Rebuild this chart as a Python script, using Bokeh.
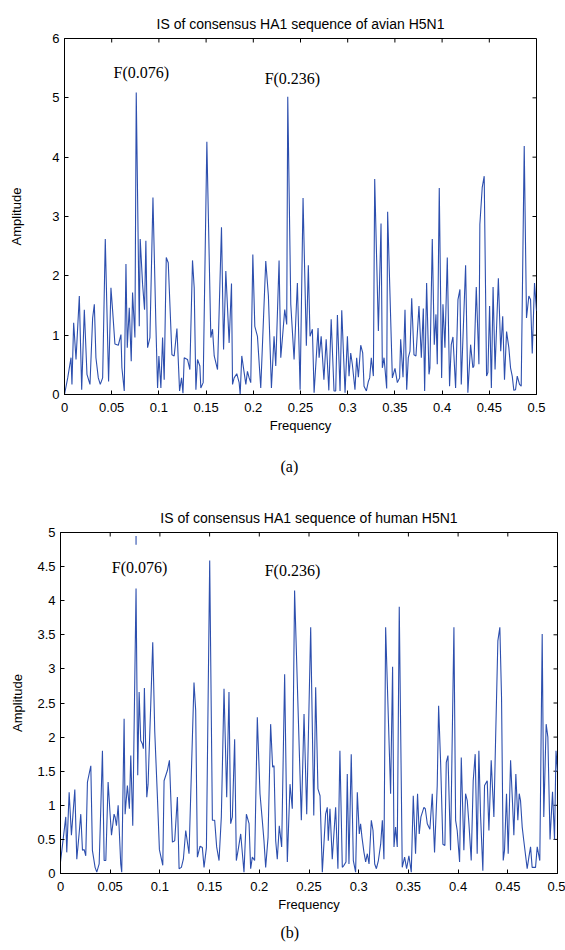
import math
from bokeh.plotting import figure
from bokeh.layouts import column, row
from bokeh.models import Range1d, FixedTicker, Title, NumeralTickFormatter
from bokeh.core.properties import value
from bokeh.embed import file_html
from bokeh.resources import INLINE

# ---------------- data ----------------
freq_avian = [
    0.0000, 0.0034, 0.0069, 0.0079, 0.0097, 0.0122, 0.0157, 0.0182, 0.0210, 0.0238,
    0.0270, 0.0298, 0.0316, 0.0333, 0.0358, 0.0379, 0.0404, 0.0432, 0.0467, 0.0492,
    0.0510, 0.0534, 0.0570, 0.0598, 0.0608, 0.0633, 0.0651, 0.0665, 0.0686, 0.0707,
    0.0721, 0.0746, 0.0760, 0.0792, 0.0802, 0.0827, 0.0848, 0.0862, 0.0880, 0.0905,
    0.0937, 0.0968, 0.0986, 0.1000, 0.1021, 0.1039, 0.1056, 0.1078, 0.1099, 0.1138,
    0.1162, 0.1191, 0.1219, 0.1240, 0.1255, 0.1268,
    0.1303, 0.1328, 0.1356, 0.1374, 0.1392, 0.1409, 0.1434, 0.1444, 0.1469, 0.1508,
    0.1550, 0.1568, 0.1586, 0.1621, 0.1663, 0.1685, 0.1709, 0.1744, 0.1769, 0.1780,
    0.1797, 0.1825, 0.1850, 0.1861, 0.1878, 0.1896, 0.1921, 0.1938, 0.1956, 0.1973,
    0.1995, 0.2016, 0.2044, 0.2079, 0.2132, 0.2160, 0.2192, 0.2220, 0.2238, 0.2273,
    0.2291, 0.2309, 0.2333, 0.2354, 0.2365, 0.2397, 0.2432, 0.2467, 0.2496, 0.2527,
    0.2562, 0.2583, 0.2601, 0.2626, 0.2644, 0.2686, 0.2697, 0.2719, 0.2748, 0.2772,
    0.2800, 0.2825, 0.2855, 0.2873, 0.2891, 0.2919, 0.2937, 0.2972, 0.2997, 0.3014,
    0.3032, 0.3049, 0.3077, 0.3095, 0.3113, 0.3138, 0.3159, 0.3173, 0.3198, 0.3219,
    0.3233, 0.3250, 0.3272, 0.3286, 0.3325, 0.3353, 0.3367, 0.3385, 0.3413, 0.3423,
    0.3473, 0.3501, 0.3526, 0.3550, 0.3561, 0.3586, 0.3607, 0.3625, 0.3642, 0.3660,
    0.3678, 0.3702, 0.3723, 0.3755, 0.3780, 0.3801, 0.3815,
    0.3836, 0.3861, 0.3871, 0.3896, 0.3917, 0.3935, 0.3949, 0.3970, 0.3995, 0.4009,
    0.4030, 0.4055, 0.4079, 0.4097, 0.4115, 0.4143, 0.4168, 0.4189, 0.4203, 0.4249,
    0.4273, 0.4302, 0.4326, 0.4337, 0.4362, 0.4390, 0.4400, 0.4425, 0.4446, 0.4471,
    0.4485, 0.4503, 0.4522, 0.4540, 0.4561, 0.4596, 0.4621, 0.4642, 0.4661, 0.4683,
    0.4707, 0.4725, 0.4743, 0.4760, 0.4778, 0.4796, 0.4820, 0.4838, 0.4870, 0.4894,
    0.4919, 0.4937, 0.4955, 0.4979, 0.5000,
]
amp_avian = [
    0.00, 0.28, 0.62, 0.17, 1.21, 0.59, 1.66, 0.08, 1.43, 0.34,
    0.17, 1.29, 1.52, 0.62, 0.28, 0.17, 0.28, 2.62, 0.22, 1.80,
    1.41, 0.85, 0.83, 1.01, 0.45, 0.06, 2.20, 0.79, 1.46, 0.56,
    1.72, 0.96, 5.09, 1.15, 2.62, 1.86, 1.43, 2.59, 0.79, 0.96,
    3.32, 1.18, 0.11, 0.65, 0.11, 0.96, 0.25, 2.31, 2.22, 0.67,
    0.65, 1.11, 0.06, 0.28, 0.02, 0.62,
    0.59, 0.42, 2.26, 1.80, 0.08, 0.59, 0.48, 0.11, 0.20, 4.26,
    0.96, 1.10, 0.65, 0.42, 2.82, 0.76, 2.08, 0.87, 1.87, 0.17,
    0.28, 0.35, 0.20, 0.00, 0.65, 0.45, 0.17, 0.39, 0.28, 0.20,
    2.36, 1.15, 0.98, 0.11, 2.25, 1.66, 0.11, 0.98, 0.48, 2.26,
    0.62, 0.96, 1.43, 1.18, 5.02, 1.52, 0.59, 1.88, 0.08, 3.31,
    0.82, 2.18, 0.98, 1.10, 0.03, 1.12, 0.62, 0.98, 0.25, 0.93,
    0.07, 1.27, 0.06, 0.06, 1.34, 0.06, 1.42, 0.03, 0.98, 0.31,
    0.70, 0.51, 0.08, 0.62, 0.29, 0.83, 0.70, 0.14, 0.06, 0.22,
    0.28, 0.62, 0.31, 3.63, 1.07, 2.88, 0.45, 0.62, 0.10, 3.08,
    0.28, 0.44, 0.20, 0.28, 0.93, 0.29, 1.43, 0.08, 0.62, 0.73,
    1.62, 0.67, 0.65, 1.49, 0.62, 1.45, 0.06,
    1.88, 0.34, 0.45, 2.62, 0.84, 1.35, 0.51, 3.48, 0.28, 1.52,
    0.79, 2.31, 0.14, 0.84, 0.97, 0.11, 1.60, 1.77, 0.17, 2.18,
    0.03, 0.84, 0.45, 0.48, 1.81, 0.51, 2.87, 3.49, 3.68, 0.31,
    0.37, 1.49, 0.11, 1.81, 0.42, 1.96, 0.73, 1.32, 0.25, 1.06,
    0.79, 0.45, 0.31, 0.07, 0.08, 0.31, 0.17, 0.14, 4.19, 1.29,
    1.66, 1.60, 0.69, 1.88, 1.41,
]

freq_human = [
    0.0000, 0.0053, 0.0063, 0.0087, 0.0110, 0.0144, 0.0164, 0.0187, 0.0204, 0.0221,
    0.0238, 0.0254, 0.0271, 0.0305, 0.0321, 0.0348, 0.0365, 0.0389, 0.0422, 0.0439,
    0.0456, 0.0479, 0.0499, 0.0513, 0.0539, 0.0549, 0.0563, 0.0580, 0.0606, 0.0616,
    0.0640, 0.0650, 0.0673, 0.0693, 0.0707, 0.0727, 0.0760, 0.0777, 0.0791, 0.0807,
    0.0824, 0.0834, 0.0844, 0.0868, 0.0881, 0.0908, 0.0928, 0.0948, 0.0975, 0.0995,
    0.1029, 0.1042, 0.1075, 0.1096, 0.1126, 0.1149, 0.1176, 0.1193, 0.1216, 0.1236,
    0.1260,
    0.1293, 0.1343, 0.1360, 0.1377, 0.1404, 0.1427, 0.1444, 0.1468, 0.1501, 0.1528,
    0.1551, 0.1571, 0.1595, 0.1618, 0.1645, 0.1672, 0.1695, 0.1712, 0.1729, 0.1752,
    0.1769, 0.1789, 0.1813, 0.1830, 0.1846, 0.1870, 0.1897, 0.1913, 0.1930, 0.1953,
    0.1980, 0.2007, 0.2030, 0.2047, 0.2064, 0.2088, 0.2114, 0.2134, 0.2148, 0.2165,
    0.2181, 0.2201, 0.2225, 0.2255, 0.2282, 0.2309, 0.2332, 0.2355, 0.2423, 0.2450,
    0.2477, 0.2517, 0.2548, 0.2567, 0.2590, 0.2611, 0.2634, 0.2667, 0.2684, 0.2694,
    0.2711, 0.2734, 0.2768, 0.2791, 0.2811, 0.2835, 0.2852, 0.2872, 0.2885, 0.2902,
    0.2925, 0.2946, 0.2969, 0.2986, 0.3006, 0.3019, 0.3033, 0.3053, 0.3070, 0.3087,
    0.3104, 0.3127, 0.3144, 0.3161, 0.3178, 0.3198, 0.3221, 0.3238, 0.3254, 0.3271,
    0.3321, 0.3341, 0.3355, 0.3371, 0.3388, 0.3408, 0.3438, 0.3462, 0.3482, 0.3505,
    0.3529, 0.3549, 0.3572, 0.3592, 0.3609, 0.3626, 0.3656, 0.3670, 0.3690, 0.3716,
    0.3740, 0.3763, 0.3790, 0.3804, 0.3824, 0.3847, 0.3867, 0.3881, 0.3898, 0.3924,
    0.3938, 0.3958, 0.3975, 0.3991, 0.4015, 0.4032, 0.4058, 0.4075, 0.4092, 0.4109,
    0.4132, 0.4152, 0.4172, 0.4192, 0.4209, 0.4226, 0.4249, 0.4266, 0.4293, 0.4310,
    0.4333, 0.4360, 0.4377, 0.4400, 0.4420, 0.4437, 0.4454, 0.4467, 0.4487, 0.4504,
    0.4528, 0.4548, 0.4561, 0.4581, 0.4601, 0.4615, 0.4628, 0.4645, 0.4661, 0.4695,
    0.4712, 0.4729, 0.4745, 0.4779, 0.4796, 0.4822, 0.4846, 0.4862, 0.4886, 0.4903,
    0.4925, 0.4950, 0.4970, 0.4985, 0.5000,
]
amp_human = [
    0.17, 0.83, 0.31, 1.19, 0.56, 1.23, 0.21, 0.58, 0.87, 0.34,
    0.35, 0.26, 1.34, 1.58, 0.34, 0.09, 0.02, 0.14, 1.80, 0.19,
    0.19, 1.34, 0.87, 0.56, 0.87, 0.83, 0.70, 1.00, 0.14, 0.02,
    2.27, 0.87, 1.29, 0.95, 1.73, 0.70, 4.18, 1.44, 2.66, 1.95,
    1.90, 1.83, 2.72, 1.12, 1.31, 2.48, 3.39, 2.09, 1.12, 0.35,
    0.12, 1.36, 1.51, 1.66, 0.46, 0.48, 1.12, 0.07, 0.09, 0.21,
    0.63,
    0.29, 2.80, 2.39, 0.24, 0.40, 0.38, 0.09, 0.38, 4.59, 0.78,
    0.78, 0.39, 0.19, 0.83, 2.71, 1.12, 2.66, 0.73, 0.83, 1.97,
    0.19, 0.36, 0.58, 0.29, 0.02, 0.87, 0.73, 0.07, 0.24, 0.19,
    2.29, 1.17, 0.78, 0.48, 0.09, 0.53, 2.19, 1.56, 1.58, 0.48,
    0.21, 0.70, 0.39, 2.92, 0.17, 1.31, 0.95, 4.15, 0.78, 2.34,
    0.87, 3.61, 0.85, 2.73, 1.24, 1.14, 0.02, 0.87, 0.97, 0.48,
    0.95, 0.21, 0.97, 0.07, 1.80, 0.09, 0.12, 0.17, 1.46, 0.14,
    1.75, 0.19, 0.02, 1.19, 0.58, 0.73, 0.53, 0.31, 0.17, 0.29,
    0.14, 0.78, 0.63, 0.14, 0.07, 0.19, 0.43, 0.78, 0.21, 3.61,
    1.17, 3.03, 0.39, 0.68, 0.39, 3.91, 0.09, 0.24, 0.07, 0.26,
    0.02, 1.14, 0.29, 1.17, 0.58, 0.83, 0.97, 0.95, 0.73, 0.65,
    1.17, 0.31, 1.29, 2.46, 1.63, 0.43, 0.41, 1.63, 1.73, 0.34,
    1.70, 3.61, 0.78, 0.63, 0.17, 1.70, 0.34, 1.17, 1.07, 0.73,
    0.19, 1.36, 1.75, 0.29, 1.80, 0.85, 0.04, 1.29, 1.36, 0.63,
    1.66, 0.83, 1.95, 3.41, 3.61, 2.58, 0.19, 0.34, 1.17, 0.29,
    1.66, 1.02, 0.56, 1.46, 0.78, 1.17, 1.07, 0.68, 0.48, 0.07,
    0.24, 0.39, 0.09, 0.09, 0.39, 0.19, 3.51, 0.83, 2.19, 2.00,
    0.50, 1.20, 0.50, 1.80, 1.50,
]

# short isolated mark near the top of panel (b)
human_mark_freq = [0.076]
human_mark_amp_low = [4.82]
human_mark_amp_high = [4.95]

x_ticks = [0.0, 0.05, 0.1, 0.15, 0.2, 0.25, 0.3, 0.35, 0.4, 0.45, 0.5]
x_tick_labels = ["0", "0.05", "0.1", "0.15", "0.2", "0.25", "0.3", "0.35", "0.4", "0.45", "0.5"]
y_ticks_avian = [0.0, 1.0, 2.0, 3.0, 4.0, 5.0, 6.0]
y_tick_labels_avian = ["0", "1", "2", "3", "4", "5", "6"]
y_ticks_human = [0.0, 0.5, 1.0, 1.5, 2.0, 2.5, 3.0, 3.5, 4.0, 4.5, 5.0]
y_tick_labels_human = ["0", "0.5", "1", "1.5", "2", "2.5", "3", "3.5", "4", "4.5", "5"]

peak_labels = ["F(0.076)", "F(0.236)"]
titles = ["IS of consensus HA1 sequence of avian H5N1",
          "IS of consensus HA1 sequence of human H5N1"]
captions = ["(a)", "(b)"]
x_label = "Frequency"
y_label = "Amplitude"

# ---------------- style ----------------
LINE_COLOR = "#2d4fae"
SANS = "Liberation Sans"
SERIF = "Liberation Serif"
TICK_LEN = 4


def style_axis(ax, ticks, labels):
    ax.ticker = FixedTicker(ticks=ticks)
    ax.major_label_overrides = {float(t): l for t, l in zip(ticks, labels)}
    ax.major_tick_in = TICK_LEN
    ax.major_tick_out = 0
    ax.minor_tick_line_color = None
    ax.axis_line_color = "black"
    ax.major_tick_line_color = "black"
    ax.major_label_text_font = SANS
    ax.major_label_text_color = "black"
    ax.major_label_text_font_size = "13px"
    ax.axis_label_text_font = SANS
    ax.axis_label_text_font_size = "13px"
    ax.axis_label_text_font_style = "normal"
    ax.axis_label_text_color = "black"


def make_panel(title, caption, freq, amp, ymax, yticks, ylabels, yfmt,
               width, height, bl, br, bt, bb, ylab_standoff,
               title_standoff, caption_standoff, caption_offset, label_pos):
    p = figure(width=width, height=height,
               x_range=Range1d(0, 0.5), y_range=Range1d(0, ymax),
               output_backend="svg", toolbar_location=None,
               min_border_left=bl, min_border_right=br,
               min_border_top=bt, min_border_bottom=bb)
    p.background_fill_color = "white"
    p.border_fill_color = "white"
    p.outline_line_color = "black"
    p.outline_line_width = 1
    p.xgrid.grid_line_color = None
    p.ygrid.grid_line_color = None

    p.title.text = title
    p.title.align = "center"
    p.title.text_font = SANS
    p.title.text_font_size = "14px"
    p.title.text_font_style = "normal"
    p.title.text_color = "black"
    p.title.standoff = title_standoff

    xa = p.xaxis[0]
    style_axis(xa, x_ticks, x_tick_labels)
    xa.formatter = NumeralTickFormatter(format="0.[00]")
    xa.major_label_standoff = 8
    xa.axis_label = x_label
    xa.axis_label_standoff = 3

    ya = p.yaxis[0]
    style_axis(ya, yticks, ylabels)
    ya.formatter = NumeralTickFormatter(format=yfmt)
    ya.major_label_standoff = 5
    ya.axis_label = y_label
    ya.axis_label_standoff = ylab_standoff

    # inward ticks on the top and right frame edges (no labels)
    p.ray(x=x_ticks, y=[ymax] * len(x_ticks), length=TICK_LEN,
          angle=-math.pi / 2, length_units="screen", line_color="black", line_width=1)
    p.ray(x=[0.5] * len(yticks), y=yticks, length=TICK_LEN,
          angle=math.pi, length_units="screen", line_color="black", line_width=1)

    p.line(freq, amp, line_color=LINE_COLOR, line_width=1.1)

    p.text(x=label_pos[0], y=label_pos[1], text=peak_labels,
           text_font=value(SERIF), text_font_size=value("16px"),
           text_align="left", text_baseline="middle", text_color="black")

    cap = Title(text=caption, align="left", offset=caption_offset,
                text_font=SERIF, text_font_size="16px", text_font_style="normal",
                text_color="black", standoff=caption_standoff)
    p.add_layout(cap, "below")
    return p


p1 = make_panel(titles[0], captions[0], freq_avian, amp_avian, 6,
                y_ticks_avian, y_tick_labels_avian, "0",
                width=565, height=498, bl=64, br=29, bt=38, bb=104,
                ylab_standoff=25, title_standoff=13,
                caption_standoff=40, caption_offset=216,
                label_pos=([0.052, 0.212], [5.42, 5.33]))

p2 = make_panel(titles[1], captions[1], freq_human, amp_human, 5,
                y_ticks_human, y_tick_labels_human, "0.[0]",
                width=565, height=452, bl=60, br=8, bt=34, bb=77,
                ylab_standoff=9, title_standoff=13,
                caption_standoff=14, caption_offset=220,
                label_pos=([0.0516, 0.2054], [4.48, 4.45]))
p2.segment(x0=human_mark_freq, y0=human_mark_amp_low,
           x1=human_mark_freq, y1=human_mark_amp_high,
           line_color=LINE_COLOR, line_width=1.1)

layout = column(row(p1), row(p2), spacing=0)
open("out.html", "w").write(file_html(layout, INLINE))
